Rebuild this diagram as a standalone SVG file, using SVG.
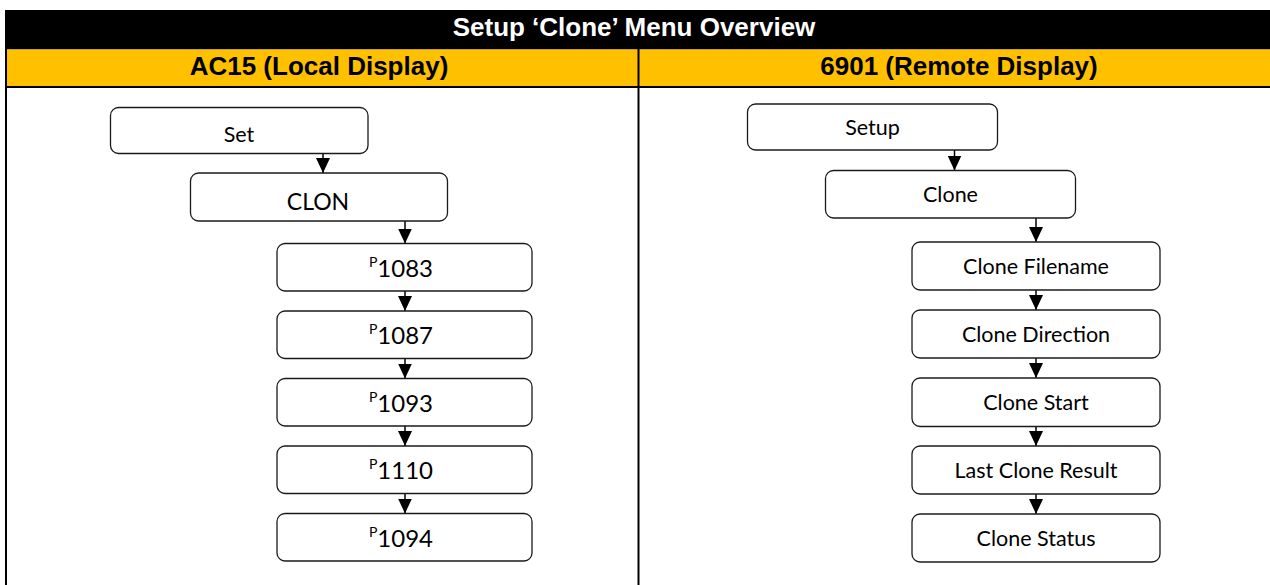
<svg xmlns="http://www.w3.org/2000/svg" width="1270" height="585" viewBox="0 0 1270 585">
  <style>
    .hdr { font-family: "Liberation Sans", Arial, sans-serif; font-weight: bold; text-anchor: middle; }
    .box { fill: #ffffff; stroke: #1a1a1a; stroke-width: 1.3; }
    .lbl { font-family: Lato, "Open Sans", sans-serif; fill: #000; text-anchor: middle; }
    .conn { stroke: #000; stroke-width: 1.5; fill: none; marker-end: url(#arr); }
  </style>
  <defs>
    <marker id="arr" markerUnits="userSpaceOnUse" markerWidth="15" markerHeight="14" viewBox="0 0 15 14" refX="15" refY="7" orient="auto">
      <path d="M0,0 L15,7 L0,14 Z" fill="#000"/>
    </marker>
  </defs>

  <!-- table -->
  <g id="table">
    <rect x="5" y="10" width="1265" height="39.5" fill="#000"/>
    <rect x="5" y="49.5" width="1265" height="36.5" fill="#FFC000"/>
    <line x1="5" y1="87" x2="1270" y2="87" stroke="#000" stroke-width="2"/>
    <line x1="6" y1="10" x2="6" y2="585" stroke="#000" stroke-width="2"/>
    <line x1="638.5" y1="49" x2="638.5" y2="585" stroke="#000" stroke-width="2"/>
    <text class="hdr" x="634" y="35.5" font-size="26" fill="#fff">Setup ‘Clone’ Menu Overview</text>
    <text class="hdr" x="319" y="74.5" font-size="26" fill="#000">AC15 (Local Display)</text>
    <text class="hdr" x="959" y="74.5" font-size="26" fill="#000">6901 (Remote Display)</text>
  </g>

  <!-- connectors -->
  <g id="connectors">
    <line class="conn" x1="323" y1="153.5" x2="323" y2="173"/>
    <line class="conn" x1="405" y1="221" x2="405" y2="243.5"/>
    <line class="conn" x1="405" y1="291" x2="405" y2="311"/>
    <line class="conn" x1="405" y1="358.5" x2="405" y2="378.5"/>
    <line class="conn" x1="405" y1="426" x2="405" y2="446"/>
    <line class="conn" x1="405" y1="493.5" x2="405" y2="513.5"/>

    <line class="conn" x1="954.5" y1="150" x2="954.5" y2="170.5"/>
    <line class="conn" x1="1036" y1="218" x2="1036" y2="242"/>
    <line class="conn" x1="1036" y1="290" x2="1036" y2="310"/>
    <line class="conn" x1="1036" y1="358" x2="1036" y2="378"/>
    <line class="conn" x1="1036" y1="426.5" x2="1036" y2="446"/>
    <line class="conn" x1="1036" y1="494" x2="1036" y2="514"/>
  </g>

  <!-- left column -->
  <g id="n-set">
    <rect class="box" x="110.5" y="107.5" width="257.5" height="46" rx="8"/>
    <text class="lbl" x="239" y="141.5" font-size="21.5">Set</text>
  </g>
  <g id="n-clon">
    <rect class="box" x="190.5" y="173" width="257" height="48" rx="8"/>
    <text class="lbl" x="318" y="210" font-size="23">CLON</text>
  </g>
  <g id="n-p1083">
    <rect class="box" x="277" y="243.5" width="255" height="47.5" rx="8"/>
    <text class="lbl" x="401" y="276.5" font-size="24"><tspan font-size="14" dy="-10">P</tspan><tspan dy="10">1083</tspan></text>
  </g>
  <g id="n-p1087">
    <rect class="box" x="277" y="311" width="255" height="47.5" rx="8"/>
    <text class="lbl" x="401" y="344" font-size="24"><tspan font-size="14" dy="-10">P</tspan><tspan dy="10">1087</tspan></text>
  </g>
  <g id="n-p1093">
    <rect class="box" x="277" y="378.5" width="255" height="47.5" rx="8"/>
    <text class="lbl" x="401" y="411.5" font-size="24"><tspan font-size="14" dy="-10">P</tspan><tspan dy="10">1093</tspan></text>
  </g>
  <g id="n-p1110">
    <rect class="box" x="277" y="446" width="255" height="47.5" rx="8"/>
    <text class="lbl" x="401" y="479" font-size="24"><tspan font-size="14" dy="-10">P</tspan><tspan dy="10">1110</tspan></text>
  </g>
  <g id="n-p1094">
    <rect class="box" x="277" y="513.5" width="255" height="47.5" rx="8"/>
    <text class="lbl" x="401" y="546.5" font-size="24"><tspan font-size="14" dy="-10">P</tspan><tspan dy="10">1094</tspan></text>
  </g>

  <!-- right column -->
  <g id="n-setup">
    <rect class="box" x="747.5" y="104" width="250" height="46" rx="8"/>
    <text class="lbl" x="872.5" y="134.5" font-size="21.5">Setup</text>
  </g>
  <g id="n-clone">
    <rect class="box" x="825.5" y="170.5" width="250" height="47.5" rx="8"/>
    <text class="lbl" x="950.5" y="202" font-size="21.5">Clone</text>
  </g>
  <g id="n-filename">
    <rect class="box" x="912" y="242" width="248" height="48" rx="8"/>
    <text class="lbl" x="1036" y="274" font-size="21.5">Clone Filename</text>
  </g>
  <g id="n-direction">
    <rect class="box" x="912" y="310" width="248" height="48" rx="8"/>
    <text class="lbl" x="1036" y="342" font-size="21.5">Clone Direction</text>
  </g>
  <g id="n-start">
    <rect class="box" x="912" y="378" width="248" height="48.5" rx="8"/>
    <text class="lbl" x="1036" y="410" font-size="21.5">Clone Start</text>
  </g>
  <g id="n-last">
    <rect class="box" x="912" y="446" width="248" height="48" rx="8"/>
    <text class="lbl" x="1036" y="478" font-size="21.5">Last Clone Result</text>
  </g>
  <g id="n-status">
    <rect class="box" x="912" y="514" width="248" height="48" rx="8"/>
    <text class="lbl" x="1036" y="546" font-size="21.5">Clone Status</text>
  </g>
</svg>
